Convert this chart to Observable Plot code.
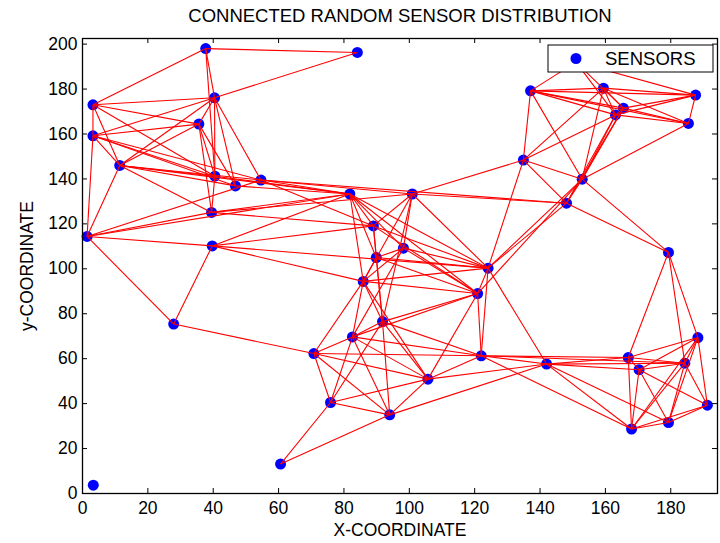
<!DOCTYPE html>
<html><head><meta charset="utf-8">
<script src="https://cdn.jsdelivr.net/npm/d3@7"></script>
<script src="https://cdn.jsdelivr.net/npm/@observablehq/plot@0.6"></script>
<style>body{margin:0;background:#fff}</style>
</head><body><div id="chart"></div>
<script>
const sensorX = [3.3,60.6,27.9,1.4,39.7,39.5,11.4,3.2,3.2,35.6,40.4,37.7,84.1,40.5,46.8,54.6,81.8,100.9,89.0,98.2,89.9,85.9,124.1,120.9,91.8,82.6,70.8,122.0,105.7,75.9,94.0,142.0,167.0,170.3,184.3,188.3,191.2,179.3,168.0,179.3,148.1,152.9,134.9,137.1,159.4,187.6,165.5,163.1,185.4,151.0];
const sensorY = [3.7,13.1,75.4,114.4,110.2,125.1,146.0,159.2,173.0,164.4,176.1,198.0,196.3,141.2,136.9,139.5,133.3,133.3,119.1,109.2,105.0,94.4,100.3,89.0,76.5,69.7,62.3,61.3,50.9,40.5,35.0,57.6,60.5,55.1,58.0,69.4,39.3,31.6,28.7,107.3,129.2,139.9,148.4,179.2,180.4,177.3,171.5,168.5,164.7,192.0];
const links = [
[11,12],[11,8],[11,10],[11,13],[12,10],
[8,10],[8,9],[8,7],[8,6],[8,13],
[7,10],[7,9],[7,3],[7,13],[7,14],[7,15],[7,6],
[6,10],[6,9],[6,13],[6,14],[6,15],[6,16],[6,5],[6,3],
[10,13],[10,14],[10,15],[10,9],
[9,13],[9,14],[9,5],
[3,5],[3,4],[3,15],[3,16],
[4,2],[3,2],[4,16],[4,18],[4,22],[4,21],
[5,16],[5,17],[5,13],[5,18],
[13,16],[14,16],[15,16],[15,40],[15,17],[15,18],
[2,26],
[16,18],[16,22],[16,20],[16,21],[16,19],[16,23],
[17,18],[17,19],[17,22],[17,21],[17,42],[17,40],[17,24],
[18,20],[18,23],[18,22],[18,24],
[19,21],[19,22],[19,23],[19,20],[19,25],
[20,22],[20,23],[20,24],[20,21],
[21,22],[21,23],[21,25],[21,26],[21,24],[21,28],
[22,23],[22,27],[22,42],[22,40],[22,41],[22,31],
[23,24],[23,25],[23,27],[23,41],[23,28],
[24,25],[24,28],[24,30],[24,27],[24,29],
[25,26],[25,28],[25,29],[25,30],[25,27],
[26,27],[26,28],[26,29],[26,30],
[29,30],[29,28],[29,1],
[30,28],[30,31],[30,1],[28,27],[28,31],
[27,31],[27,32],[27,34],[27,38],
[31,32],[31,33],[31,34],[31,38],[31,37],
[32,33],[32,34],[32,35],[32,38],[32,39],
[33,34],[33,35],[33,36],[33,37],[33,38],
[34,35],[34,36],[34,37],[34,38],[34,39],
[35,36],[35,37],[35,38],[35,39],
[36,37],[36,38],[37,38],[39,40],[41,39],
[43,44],[43,45],[43,46],[43,47],[43,48],[43,42],[43,41],
[44,45],[44,46],[44,47],[44,48],[44,41],[44,42],
[45,46],[45,47],[45,48],
[46,47],[46,48],[46,41],[46,40],
[47,48],[47,41],[47,42],[47,40],
[48,41],[42,41],[42,40],[41,40],
[49,43],[49,47],[49,46],[49,45]
];
const xTicks = [0,20,40,60,80,100,120,140,160,180];
const yTicks = [0,20,40,60,80,100,120,140,160,180,200];
const title = "CONNECTED RANDOM SENSOR DISTRIBUTION";
const xLabel = "X-COORDINATE";
const yLabel = "y-COORDINATE";
const legendLabel = "SENSORS";

const nodes = sensorX.map((x, i) => ({x, y: sensorY[i]}));
const segs = links.map(([a, b]) => ({x1: sensorX[a], y1: sensorY[a], x2: sensorX[b], y2: sensorY[b]}));

const W = 720, H = 543, mL = 82, mR = 3, mT = 38, mB = 50;
const ph = H - mT - mB, pw = W - mL - mR;
const font = "'Liberation Sans', Arial, sans-serif";

const plot = Plot.plot({
  width: W, height: H, marginLeft: mL, marginRight: mR, marginTop: mT, marginBottom: mB,
  style: {fontFamily: font, fontSize: "17.5px", color: "black", background: "white"},
  x: {domain: [0, 194.3], ticks: xTicks},
  y: {domain: [0, 202.5], ticks: yTicks},
  marks: [
    Plot.dot(nodes, {x: "x", y: "y", r: 5.5, fill: "#0000ff", stroke: null}),
    Plot.link(segs, {x1: "x1", y1: "y1", x2: "x2", y2: "y2", stroke: "#ff0000", strokeWidth: 1.1}),
    Plot.tickX(xTicks, {x: d => d, insetTop: ph - 5, stroke: "black"}),
    Plot.tickX(xTicks, {x: d => d, insetBottom: ph - 5, stroke: "black"}),
    Plot.tickY(yTicks, {y: d => d, insetRight: pw - 5, stroke: "black"}),
    Plot.tickY(yTicks, {y: d => d, insetLeft: pw - 5, stroke: "black"}),
    Plot.axisX({ticks: xTicks, tickSize: 0, tickPadding: 8, label: xLabel, labelAnchor: "center", labelArrow: "none", labelOffset: 42}),
    Plot.axisY({ticks: yTicks, tickSize: 0, tickPadding: 5, label: yLabel, labelAnchor: "center", labelArrow: "none", labelOffset: 62}),
    Plot.frame({stroke: "black", strokeWidth: 1.3})
  ]
});
document.getElementById("chart").appendChild(plot);

const svg = d3.select(plot);
svg.append("text").attr("x", 400).attr("y", 22).attr("text-anchor", "middle")
  .attr("font-family", font).attr("font-size", 18.5).attr("fill", "black").text(title);
const lg = svg.append("g");
lg.append("rect").attr("x", 548).attr("y", 45).attr("width", 165).attr("height", 27)
  .attr("fill", "white").attr("stroke", "black").attr("stroke-width", 1);
lg.append("circle").attr("cx", 576).attr("cy", 58.5).attr("r", 5.5).attr("fill", "#0000ff");
lg.append("text").attr("x", 605).attr("y", 65).attr("text-anchor", "start").attr("font-family", font).attr("font-size", 18.5)
  .attr("fill", "black").text(legendLabel);
</script>
</body></html>
